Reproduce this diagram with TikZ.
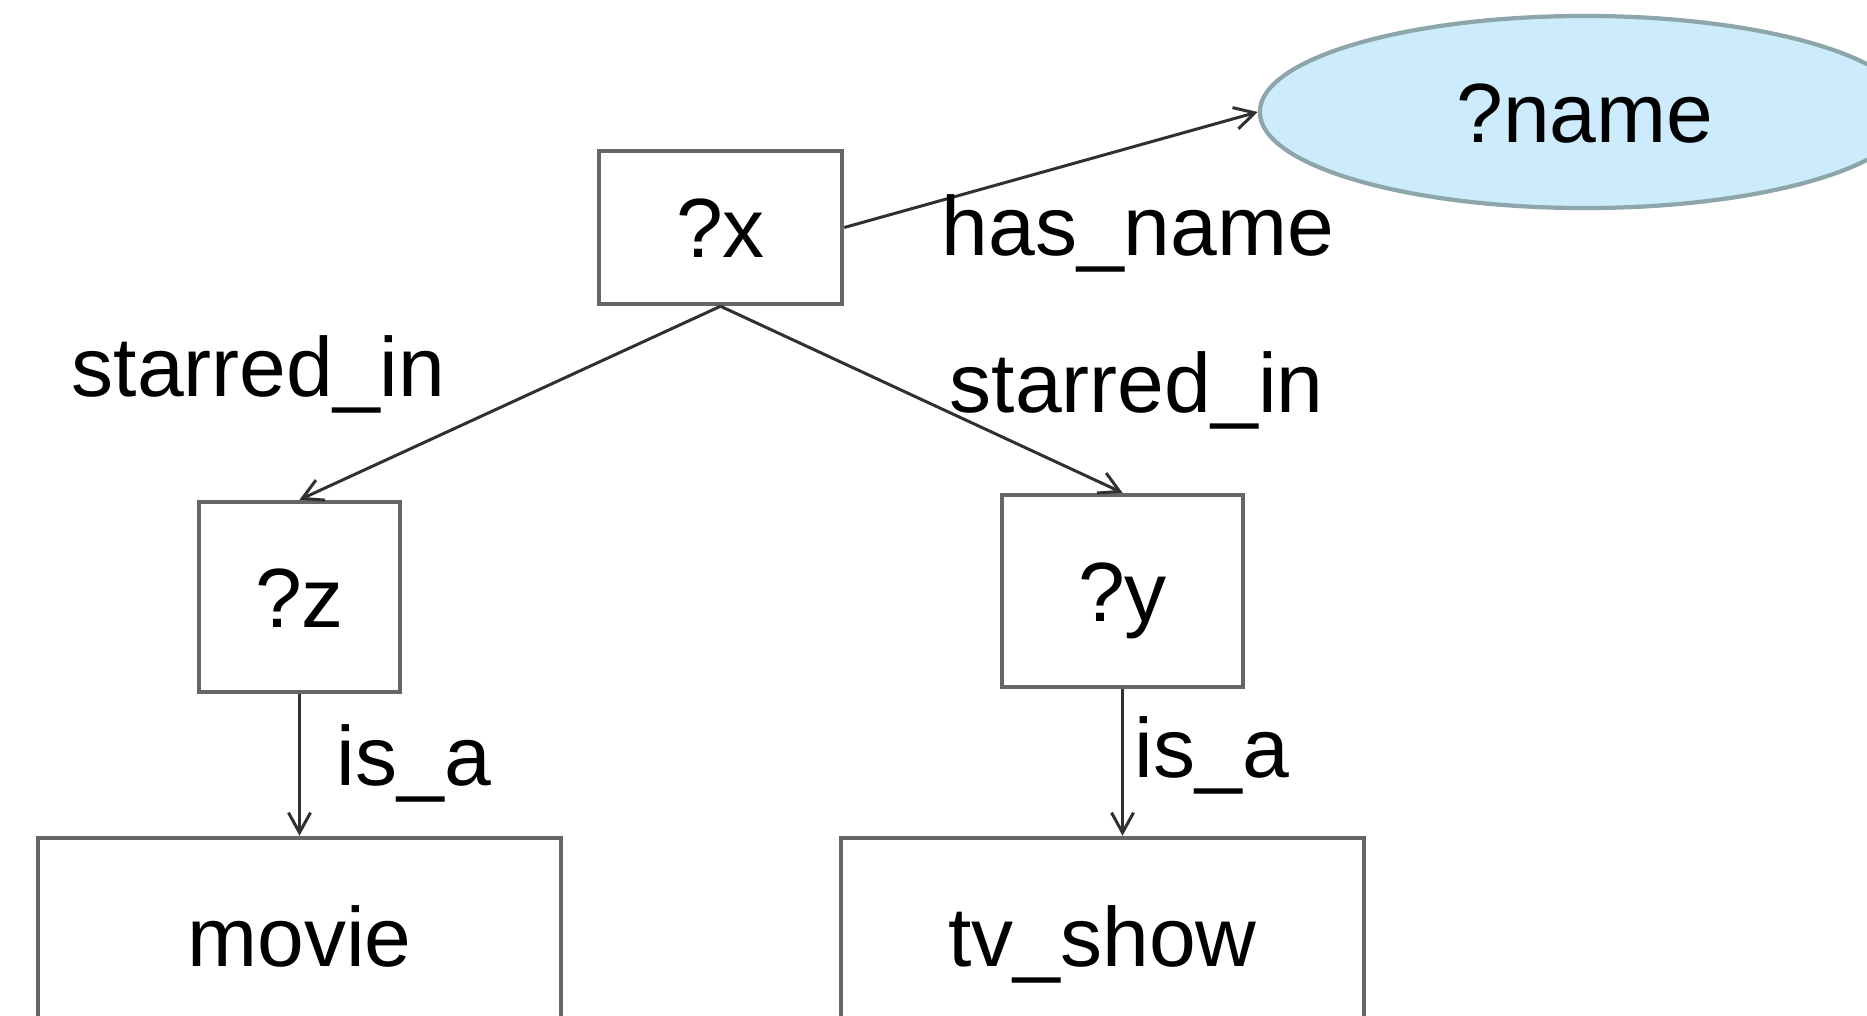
\documentclass[tikz,border=0pt]{standalone}
\usepackage{fontspec}
\setmainfont{Liberation Sans}
\usetikzlibrary{arrows.meta,shapes.geometric}

\definecolor{boxline}{HTML}{666666}
\definecolor{edgeline}{HTML}{303030}
\definecolor{litfill}{HTML}{CCEBFC}
\definecolor{litline}{HTML}{8CA6A9}

\tikzset{
  every node/.style={font=\fontsize{23.9pt}{28pt}\selectfont},
  varbox/.style={draw=boxline, line width=1.25pt, fill=white, rectangle,
    inner sep=0pt, text height=17.2pt, text depth=0pt},
  literal/.style={draw=litline, line width=1.2pt, fill=litfill, ellipse,
    inner sep=0pt, text height=17.2pt, text depth=0pt},
  rel/.style={draw=edgeline, line width=0.85pt,
    -{Straight Barb[length=2mm, width=2.2mm, line width=0.85pt]}},
  predlabel/.style={anchor=base west, inner sep=0pt}
}

\begin{document}
\begin{tikzpicture}[x=0.01cm, y=-0.01cm]
  \useasboundingbox (0,0) rectangle (1867,1015);
  \clip (0,0) rectangle (1867,1015);

  % query variables and classes
  \node[varbox, minimum width=2.43cm, minimum height=1.53cm] (x) at (720.5,227.5) {?x};
  \node[varbox, minimum width=2.01cm, minimum height=1.90cm] (z) at (299.5,597) {?z};
  \node[varbox, minimum width=2.41cm, minimum height=1.92cm] (y) at (1122.5,591) {?y};
  \node[varbox, minimum width=5.23cm, minimum height=1.96cm] (movie) at (299.5,936) {movie};
  \node[varbox, minimum width=5.23cm, minimum height=1.96cm] (tv) at (1102.5,936) {tv\_show};
  \node[literal, minimum width=6.50cm, minimum height=1.92cm] (name) at (1585,112) {?name};

  % triple patterns
  \draw[rel] (x.east) -- (name.west);
  \draw[rel] (x.south) -- (z.north);
  \draw[rel] (x.south) -- (y.north);
  \draw[rel] (z.south) -- (movie.north);
  \coordinate (tvtop) at (y.south |- tv.north);
  \draw[rel] (y.south) -- (tvtop);

  % predicate labels
  \node[predlabel] (lhasname) at (941,255) {has\_name};
  \node[predlabel] (lstarz) at (71,396) {starred\_in};
  \node[predlabel] (lstary) at (949,412) {starred\_in};
  \node[predlabel] (lisaz) at (336,785) {is\_a};
  \node[predlabel] (lisay) at (1134,777) {is\_a};
\end{tikzpicture}
\end{document}
